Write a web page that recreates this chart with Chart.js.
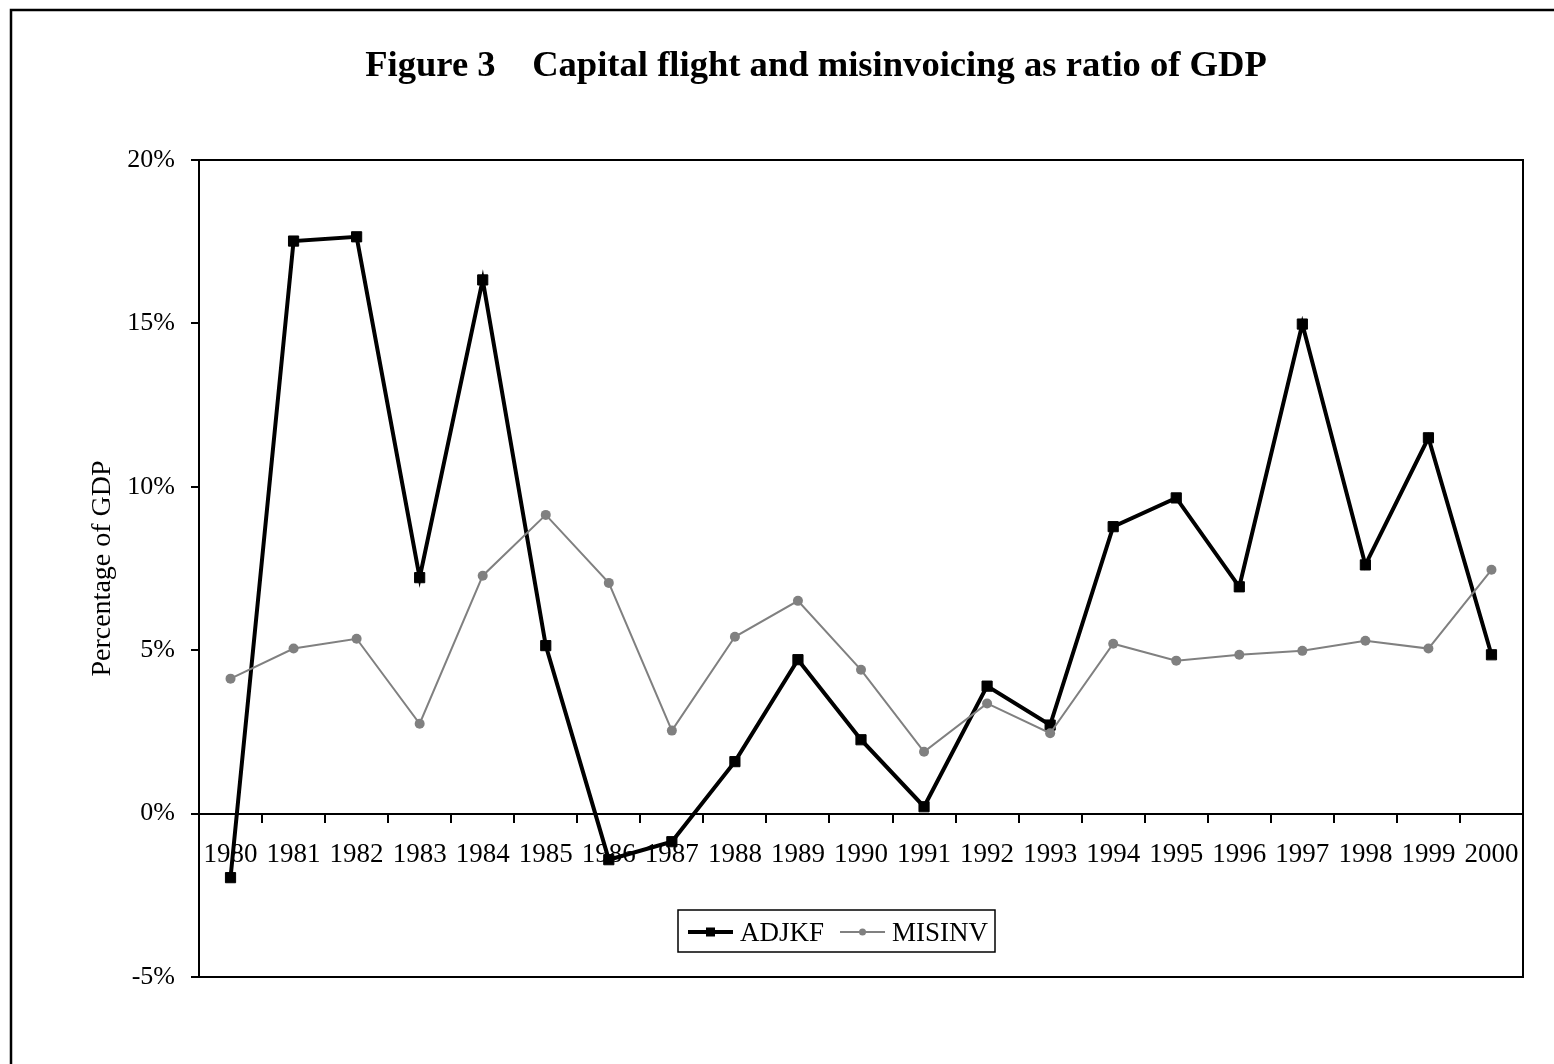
<!DOCTYPE html>
<html>
<head>
<meta charset="utf-8">
<script src="https://cdn.jsdelivr.net/npm/chart.js@4.4.1/dist/chart.umd.min.js"></script>
<style>
html,body{margin:0;padding:0;background:#fff;overflow:hidden}
canvas{display:block}
</style>
</head>
<body>
<canvas id="c" width="1554" height="1064"></canvas>
<script>
const years = ['1980','1981','1982','1983','1984','1985','1986','1987','1988','1989','1990',
               '1991','1992','1993','1994','1995','1996','1997','1998','1999','2000'];
const adjkf  = [-1.96, 17.52, 17.65, 7.22, 16.33, 5.14, -1.41, -0.86, 1.59, 4.71, 2.26,
                0.21, 3.90, 2.71, 8.78, 9.66, 6.94, 14.98, 7.61, 11.50, 4.86];
const misinv = [4.13, 5.05, 5.35, 2.75, 7.28, 9.14, 7.06, 2.54, 5.41, 6.51, 4.40,
                1.89, 3.37, 2.46, 5.20, 4.68, 4.86, 4.98, 5.29, 5.05, 7.46];
const yTickValues = [-5, 0, 5, 10, 15, 20];
const seriesNames = ['ADJKF', 'MISINV'];
const titleText = 'Figure 3    Capital flight and misinvoicing as ratio of GDP';
const yAxisTitle = 'Percentage of GDP';

const FONT = 'Liberation Serif';

const framePlugin = {
  id: 'frame',
  beforeDatasetsDraw(chart) {
    const ctx = chart.ctx, a = chart.chartArea;
    ctx.save();
    ctx.strokeStyle = '#000';
    ctx.lineWidth = 2;
    ctx.strokeRect(a.left, a.top, a.right - a.left, a.bottom - a.top);
    ctx.restore();
  },
  afterDraw(chart) {
    const ctx = chart.ctx;
    ctx.save();
    // outer chart border
    ctx.strokeStyle = '#000';
    ctx.lineWidth = 2.5;
    ctx.strokeRect(11, 10, 1700, 1200);
    // legend
    const box = {x: 678, y: 910, w: 317, h: 42};
    ctx.fillStyle = '#fff';
    ctx.fillRect(box.x, box.y, box.w, box.h);
    ctx.lineWidth = 1.5;
    ctx.strokeStyle = '#000';
    ctx.strokeRect(box.x, box.y, box.w, box.h);
    ctx.font = '27px "' + FONT + '"';
    ctx.textBaseline = 'middle';
    ctx.textAlign = 'left';
    let x = box.x + 10;
    const cy = box.y + 22;
    seriesNames.forEach(name => {
      const ds = chart.data.datasets.find(d => d.label === name);
      ctx.strokeStyle = ds.borderColor;
      ctx.lineWidth = ds.borderWidth;
      ctx.beginPath();
      ctx.moveTo(x, cy);
      ctx.lineTo(x + 45, cy);
      ctx.stroke();
      ctx.fillStyle = ds.pointBackgroundColor;
      const mx = x + 22.5;
      if (ds.pointStyle === 'rect') {
        ctx.fillRect(mx - 4.5, cy - 4.5, 9, 9);
      } else {
        ctx.beginPath();
        ctx.arc(mx, cy, 3.5, 0, Math.PI * 2);
        ctx.fill();
      }
      ctx.fillStyle = '#000';
      ctx.fillText(name, x + 52, cy + 2);
      x += 52 + ctx.measureText(name).width + 16;
    });
    ctx.restore();
  }
};

new Chart(document.getElementById('c'), {
  type: 'line',
  data: {
    labels: years,
    datasets: [
      {
        label: seriesNames[0],
        data: adjkf,
        yAxisID: 'y',
        borderColor: '#000',
        backgroundColor: '#000',
        borderWidth: 4,
        pointStyle: 'rect',
        pointRadius: 7.2,
        pointBackgroundColor: '#000',
        pointBorderColor: '#000',
        pointBorderWidth: 1,
        tension: 0,
        fill: false,
        order: 1
      },
      {
        label: seriesNames[1],
        data: misinv,
        yAxisID: 'y',
        borderColor: '#808080',
        backgroundColor: '#808080',
        borderWidth: 2,
        pointStyle: 'circle',
        pointRadius: 5,
        pointBackgroundColor: '#808080',
        pointBorderColor: '#808080',
        pointBorderWidth: 0,
        tension: 0,
        fill: false,
        order: 0
      }
    ]
  },
  options: {
    responsive: false,
    animation: false,
    devicePixelRatio: 1,
    layout: { padding: { left: 78, right: 0, top: 0, bottom: 87 } },
    plugins: {
      legend: { display: false },
      tooltip: { enabled: false },
      title: {
        display: true,
        text: titleText,
        color: '#000',
        font: { family: FONT, size: 36.6, weight: 'bold', lineHeight: 1.2 },
        padding: { top: 45, bottom: 71.08 }
      }
    },
    scales: {
      x: {
        type: 'category',
        offset: true,
        position: { y: 0 },
        grid: { offset: true, drawOnChartArea: false, drawTicks: true, tickLength: 8, color: '#000', lineWidth: 2 },
        border: { display: true, color: '#000', width: 2 },
        ticks: { color: '#000', font: { family: FONT, size: 27 }, padding: 17, maxRotation: 0, autoSkip: false }
      },
      y: {
        position: 'left',
        min: -5,
        max: 20,
        afterBuildTicks: s => { s.ticks = yTickValues.map(v => ({ value: v })); },
        grid: { drawOnChartArea: false, drawTicks: true, tickLength: 8, color: '#000', lineWidth: 2 },
        border: { display: true, color: '#000', width: 2 },
        ticks: { color: '#000', font: { family: FONT, size: 26 }, padding: 16, callback: v => v + '%' },
        title: { display: true, text: yAxisTitle, color: '#000', font: { family: FONT, size: 28 }, padding: { top: 8, bottom: 0 } },
        afterFit: s => { s.width = 121; }
      },
      yr: {
        position: 'right',
        display: true,
        grid: { display: false },
        border: { display: false },
        ticks: { display: false },
        afterFit: s => { s.width = 31; }
      }
    }
  },
  plugins: [framePlugin]
});
</script>
</body>
</html>
